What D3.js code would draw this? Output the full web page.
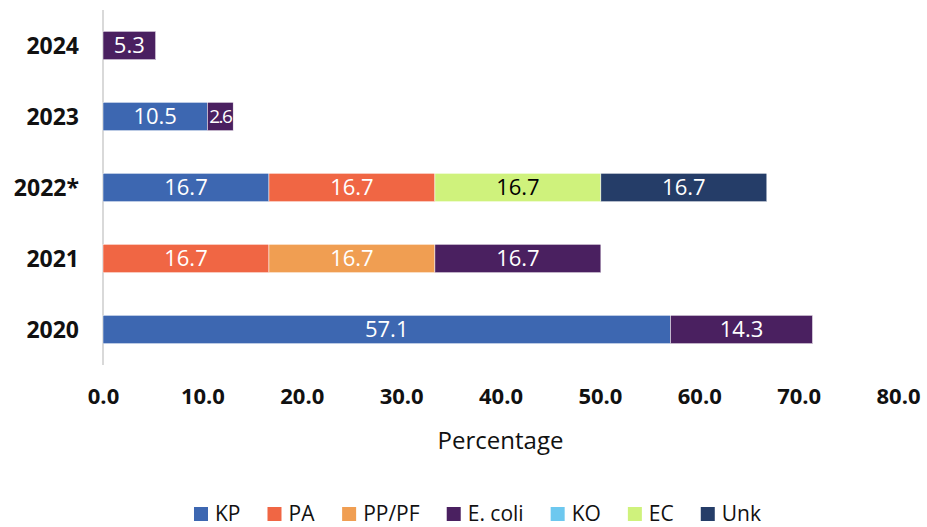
<!DOCTYPE html>
<html>
<head>
<meta charset="utf-8">
<script src="https://cdn.jsdelivr.net/npm/d3@7"></script>
<style>
  html, body { margin: 0; padding: 0; background: #fff; }
  svg { display: block; font-family: "Open Sans", Lato, sans-serif; }
</style>
</head>
<body>
<svg id="chart" width="927" height="527"></svg>
<script>
// Years shown on the vertical axis, top to bottom
const years = ["2024", "2023", "2022*", "2021", "2020"];

// Organism series, in stacking order
const seriesNames = ["KP", "PA", "PP/PF", "E. coli", "KO", "EC", "Unk"];
const seriesColors = ["#3D67B1", "#F06644", "#F09E52", "#4A2060", "#6DC8EF", "#CFF27C", "#253D68"];

// Percentage per year for each series (same order as years)
const kp     = [0,    10.5, 16.7, 0,    57.1];
const pa     = [0,    0,    16.7, 16.7, 0];
const pppf   = [0,    0,    0,    16.7, 0];
const ecoli  = [5.3,  2.6,  0,    16.7, 14.3];
const ko     = [0,    0,    0,    0,    0];
const ec     = [0,    0,    16.7, 0,    0];
const unk    = [0,    0,    16.7, 0,    0];

const xTicks = [0, 10, 20, 30, 40, 50, 60, 70, 80];

const seriesValues = [kp, pa, pppf, ecoli, ko, ec, unk];
const rows = years.map((y, i) => {
  const r = { year: y };
  seriesNames.forEach((s, k) => { r[s] = seriesValues[k][i]; });
  return r;
});

const svg = d3.select("#chart");
const margin = { left: 103, right: 29, top: 10, bottom: 162 };
const W = 927, H = 527;

const x = d3.scaleLinear().domain([0, 80]).range([margin.left, W - margin.right]);
const y = d3.scaleBand().domain(years).range([margin.top, H - margin.bottom]).paddingInner(0.6).paddingOuter(0.3);

const color = d3.scaleOrdinal().domain(seriesNames).range(seriesColors);
const stack = d3.stack().keys(seriesNames)(rows);

// Vertical baseline
svg.append("line")
  .attr("x1", x(0)).attr("x2", x(0))
  .attr("y1", margin.top).attr("y2", H - margin.bottom)
  .attr("stroke", "#d9d9d9").attr("stroke-width", 2);

// Stacked bar segments
const layers = svg.append("g").selectAll("g")
  .data(stack).join("g")
  .attr("fill", d => color(d.key));

layers.selectAll("rect")
  .data(d => d.filter(p => p[1] - p[0] > 0))
  .join("rect")
  .attr("x", d => x(d[0]))
  .attr("y", d => y(d.data.year))
  .attr("width", d => x(d[1]) - x(d[0]))
  .attr("height", y.bandwidth())
  .attr("stroke", "#fff").attr("stroke-width", 0.5);

// Value labels inside segments
layers.selectAll("text")
  .data(d => d.filter(p => p[1] - p[0] > 0).map(p => ({ p, key: d.key })))
  .join("text")
  .attr("x", d => (x(d.p[0]) + x(d.p[1])) / 2)
  .attr("y", d => y(d.p.data.year) + y.bandwidth() / 2)
  .attr("dy", "0.36em")
  .attr("text-anchor", "middle")
  .attr("fill", d => d.key === "EC" ? "#000" : "#fff")
  .attr("letter-spacing", d => (d.p[1] - d.p[0]) < 4 ? "-1.5px" : "0")
  .attr("font-size", d => (d.p[1] - d.p[0]) < 4 ? 19 : 22)
  .text(d => (d.p[1] - d.p[0]).toFixed(1));

// Year labels
svg.append("g").selectAll("text")
  .data(years).join("text")
  .attr("x", 79)
  .attr("y", d => y(d) + y.bandwidth() / 2)
  .attr("dy", "0.36em")
  .attr("text-anchor", "end")
  .attr("font-size", 23).attr("font-weight", 700)
  .attr("fill", "#111")
  .text(d => d);

// X axis tick labels
const xAxis = d3.axisBottom(x).tickValues(xTicks).tickFormat(d3.format(".1f")).tickSize(0).tickPadding(0);
const gx = svg.append("g").attr("transform", `translate(0,${388})`).call(xAxis);
gx.select(".domain").remove();
gx.selectAll("text")
  .attr("font-size", 22).attr("font-weight", 700)
  .attr("fill", "#111")
  .attr("font-family", "'Open Sans', sans-serif");

// Axis title
svg.append("text")
  .attr("x", (x(0) + x(80)) / 2)
  .attr("y", 449)
  .attr("text-anchor", "middle")
  .attr("font-size", 24)
  .attr("fill", "#111")
  .text("Percentage");

// Legend
const legend = svg.append("g").attr("transform", "translate(0,513)");
const items = legend.selectAll("g").data(seriesNames).join("g");
items.append("rect")
  .attr("width", 14).attr("height", 14)
  .attr("y", -6)
  .attr("fill", d => color(d));
items.append("text")
  .attr("x", 21)
  .attr("dy", "0.36em")
  .attr("font-size", 21)
  .attr("fill", "#111")
  .text(d => d);
const widths = [];
items.each(function () { widths.push(this.getBBox().width); });
const gap = 27;
const total = d3.sum(widths) + gap * (widths.length - 1);
let offset = (W - total) / 2 + 14;
items.attr("transform", (d, i) => {
  const t = `translate(${offset},0)`;
  offset += widths[i] + gap;
  return t;
});
</script>
</body>
</html>
